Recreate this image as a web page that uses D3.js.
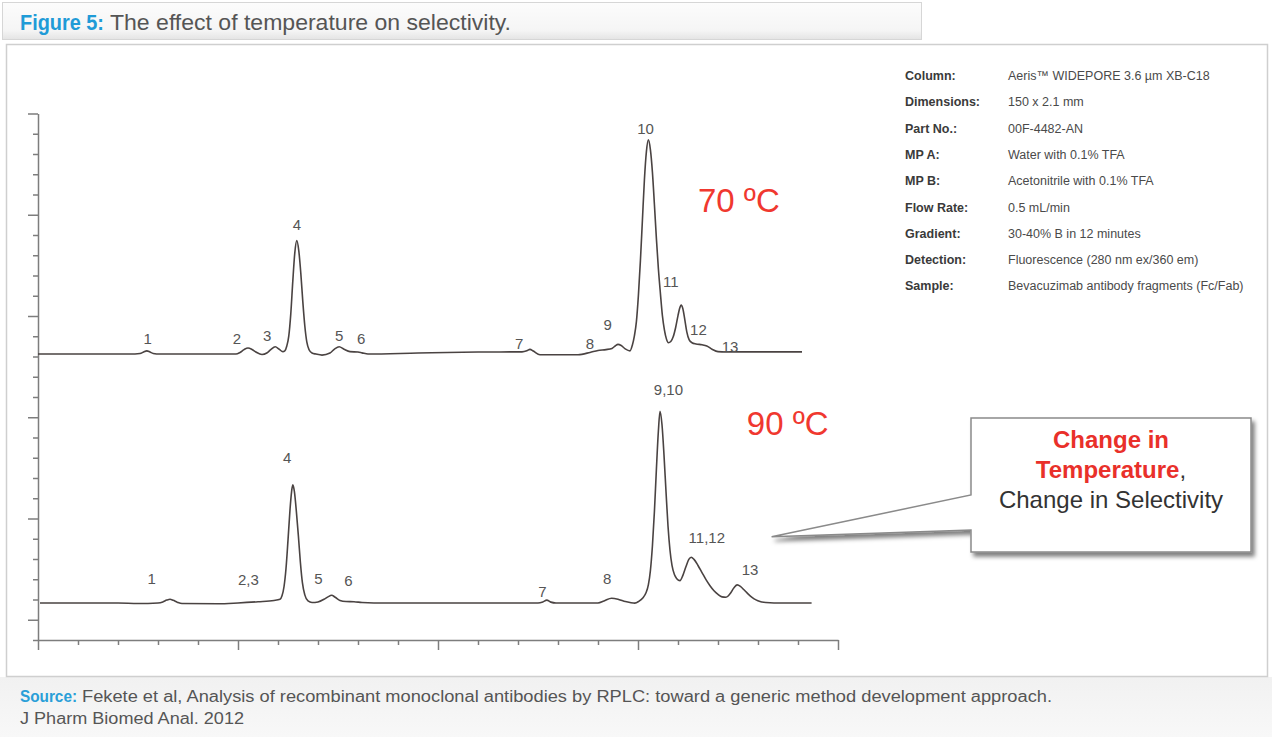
<!DOCTYPE html>
<html lang="en">
<head>
<meta charset="UTF-8">
<title>Figure 5: The effect of temperature on selectivity</title>
<script src="https://cdnjs.cloudflare.com/ajax/libs/d3/7.8.5/d3.min.js"></script>
<style>
  body { margin: 0; background: #fff; }
  svg { display: block; font-family: "Liberation Sans", Arial, sans-serif; }
  .axis path, .axis line { stroke: #7d7d7d; stroke-width: 1.5; }
  .trace { fill: none; stroke: #4a4342; stroke-width: 1.6; }
  .peak { fill: #555; font-size: 15px; text-anchor: middle; }
  .temp { fill: #f0382f; font-size: 33px; }
  .info-label { fill: #3a3a3a; font-size: 12.5px; font-weight: bold; }
  .info-value { fill: #4a4a4a; font-size: 12.5px; }
</style>
</head>
<body>
<script>
  var width = 1272, height = 737;

  // chromatograms: [time (min), signal] -- signal relative to each trace's baseline
  var trace70 = [
    [0,0],[2.3,0],[2.55,0.3],[2.64,1.0],[2.72,1.6],[2.8,1.0],[2.88,0.3],[3.05,0],
    [4.95,0],[5.05,0.8],[5.15,2.2],[5.25,3.0],[5.35,2.3],[5.45,1.0],[5.6,-0.2],[5.72,0.5],[5.82,2.2],[5.93,3.6],[6.03,2.4],[6.12,1.2],
    [6.17,1.6],[6.22,4],[6.27,9],[6.32,20],[6.37,36],[6.42,50],[6.47,56],[6.52,51],[6.57,40],[6.62,26],[6.67,14],[6.72,6],[6.78,2],[6.85,0.5],
    [6.95,0],[7.1,-0.5],[7.3,0.5],[7.42,2.6],[7.53,3.6],[7.65,2.4],[7.8,1.2],[8.0,1.0],[8.1,0.6],[8.25,0],
    [9.5,0.5],[11.0,1.0],[12.1,1.1],[12.22,1.6],[12.3,2.3],[12.38,1.5],[12.55,-0.3],[13.5,-0.3],[13.8,0.8],[14.0,1.8],[14.2,2.2],[14.35,2.8],[14.43,4.0],[14.5,4.8],[14.58,4.2],[14.68,2.6],[14.8,1.6],
    [14.86,4.5],[14.91,9],[14.96,16],[15.01,29],[15.06,46],[15.11,66],[15.16,86],[15.21,100],[15.26,105.8],
    [15.31,101],[15.36,90],[15.41,74],[15.46,57],[15.51,42],[15.56,30],[15.61,19],[15.66,12],[15.71,7.5],[15.76,5.6],
    [15.82,6.2],[15.88,8.5],[15.94,13],[16.0,19],[16.04,22.5],[16.08,24.2],[16.12,22.5],[16.17,17],[16.22,11],[16.28,7],[16.35,5.6],
    [16.45,5.0],[16.6,4.6],[16.72,4.0],[16.85,2.4],[17.0,1.2],[17.2,1.1],[19.1,1.1]
  ];
  var trace90 = [
    [0.05,0],[2.0,0],[2.5,-0.3],[3.0,0],[3.12,0.5],[3.22,1.4],[3.3,1.8],[3.38,1.3],[3.48,0.4],[3.6,-0.3],[4.5,-0.4],[5.0,0],[5.5,0.6],[5.9,1.2],[6.05,1.8],
    [6.1,3.5],[6.15,8],[6.2,17],[6.25,31],[6.3,46],[6.34,55],[6.37,58.3],[6.41,55],[6.46,45],[6.51,33],[6.56,20],[6.61,10],[6.67,4],[6.75,1],[6.85,0.2],
    [7.0,0.5],[7.15,1.8],[7.25,3.0],[7.34,3.8],[7.43,2.8],[7.55,1.2],[7.7,0.7],[7.9,0.6],[8.1,0.2],[8.4,0],
    [12.5,0],[12.62,0.5],[12.72,1.4],[12.82,0.4],[12.95,0],
    [14.0,0],[14.15,1.0],[14.34,2.3],[14.5,1.8],[14.65,0.8],[14.8,0.2],[14.92,-0.1],
    [15.02,0.8],[15.12,2.5],[15.2,5],[15.26,9],[15.31,16],[15.36,28],[15.41,45],[15.46,66],[15.51,85],[15.55,94.6],
    [15.6,88],[15.65,73],[15.7,55],[15.75,38],[15.8,26],[15.85,18.5],[15.91,14],[15.97,12],[16.05,11],
    [16.12,13.5],[16.2,18],[16.27,21.5],[16.33,22.6],[16.4,21.5],[16.5,18.5],[16.6,15],[16.7,11.5],[16.8,8.5],[16.9,6],[17.0,4.2],
    [17.1,3],[17.2,2.8],[17.3,4.5],[17.4,7.5],[17.48,8.9],[17.56,8.2],[17.65,6.5],[17.75,4.5],[17.85,2.8],[17.95,1.5],[18.05,0.7],[18.2,0.2],[18.4,0],[19.34,0]
  ];
  var baseline70 = 141.2,   // vertical offset of the 70 C trace
      baseline90 = 18.3;    // vertical offset of the 90 C trace

  // peak labels: [text, time, signal]
  var peaks70 = [["1",2.74,4.9],["2",4.97,4.9],["3",5.73,6.6],["4",6.47,61.3],["5",7.53,6.6],["6",8.08,4.9],
                 ["7",12.03,2.3],["8",13.8,2.3],["9",14.24,11.9],["10",15.19,108.7],["11",15.82,33.3],["12",16.51,9.4],["13",17.3,1.1]];
  var peaks90 = [["1",2.84,9.4],["2,3",5.26,8.9],["4",6.23,69],["5",7.01,9.4],["6",7.76,8.6],
                 ["7",12.61,3.1],["8",14.23,9.2],["9,10",15.76,102.8],["11,12",16.72,29.8],["13",17.8,13.8]];
  var tempLabels = [["70 ºC",16.5,70.2,baseline70],["90 ºC",17.72,83,baseline90]];

  var xTicks = d3.range(0, 21, 1);
  var yTicks = d3.range(0, 261, 10);

  var infoLabels = ["Column:","Dimensions:","Part No.:","MP A:","MP B:","Flow Rate:","Gradient:","Detection:","Sample:"];
  var infoValues = ["Aeris™ WIDEPORE 3.6 µm XB-C18","150 x 2.1 mm","00F-4482-AN","Water with 0.1% TFA",
                    "Acetonitrile with 0.1% TFA","0.5 mL/min","30-40% B in 12 minutes",
                    "Fluorescence (280 nm ex/360 em)","Bevacuzimab antibody fragments (Fc/Fab)"];

  var svg = d3.select("body").append("svg")
      .attr("width", width)
      .attr("height", height);

  var defs = svg.append("defs");
  var tg = defs.append("linearGradient").attr("id", "titleGrad").attr("x1", 0).attr("y1", 0).attr("x2", 0).attr("y2", 1);
  tg.append("stop").attr("offset", "0%").attr("stop-color", "#fcfcfc");
  tg.append("stop").attr("offset", "75%").attr("stop-color", "#f5f5f5");
  tg.append("stop").attr("offset", "100%").attr("stop-color", "#e4e4e4");
  var fg = defs.append("linearGradient").attr("id", "footGrad").attr("x1", 0).attr("y1", 0).attr("x2", 0).attr("y2", 1);
  fg.append("stop").attr("offset", "0%").attr("stop-color", "#f1f1f1");
  fg.append("stop").attr("offset", "100%").attr("stop-color", "#f8f8f8");
  defs.append("filter").attr("id", "shadow")
      .attr("x", "-10%").attr("y", "-10%").attr("width", "130%").attr("height", "140%")
    .append("feDropShadow")
      .attr("dx", 3).attr("dy", 4).attr("stdDeviation", 2)
      .attr("flood-color", "#000").attr("flood-opacity", 0.5);

  // frames
  svg.append("rect").attr("x", 0).attr("y", 677).attr("width", width).attr("height", 60).attr("fill", "url(#footGrad)");
  svg.append("rect").attr("x", 6.5).attr("y", 44.5).attr("width", 1261).attr("height", 632)
      .attr("fill", "#fff").attr("stroke", "#cfcfcf").attr("stroke-width", 1.5);
  svg.append("rect").attr("x", 2.5).attr("y", 2.5).attr("width", 919).attr("height", 37)
      .attr("fill", "url(#titleGrad)").attr("stroke", "#d6d6d6");

  // title
  svg.append("text").attr("x", 20).attr("y", 30)
      .attr("font-size", 22).attr("font-weight", "bold").attr("fill", "#1f9bd7")
      .attr("textLength", 84).attr("lengthAdjust", "spacingAndGlyphs")
      .text("Figure 5:");
  svg.append("text").attr("x", 110).attr("y", 30)
      .attr("font-size", 22).attr("fill", "#555")
      .attr("textLength", 401).attr("lengthAdjust", "spacingAndGlyphs")
      .text("The effect of temperature on selectivity.");

  // scales and axes
  var x = d3.scaleLinear().domain([0, 20]).range([38, 838]);
  var y = d3.scaleLinear().domain([0, 260]).range([640, 113.5]);

  var yAxis = svg.append("g").attr("class", "axis").attr("transform", "translate(38,0)")
      .call(d3.axisLeft(y).tickValues(yTicks).tickSize(5).tickSizeOuter(0).tickFormat(""));
  yAxis.selectAll(".tick line").filter(function(d) { return (d - 10) % 50 === 0; }).attr("x2", -10);

  var xAxis = svg.append("g").attr("class", "axis").attr("transform", "translate(0,640)")
      .call(d3.axisBottom(x).tickValues(xTicks).tickSize(5).tickSizeOuter(0).tickFormat(""));
  xAxis.selectAll(".tick line").filter(function(d) { return d % 5 === 0; }).attr("y2", 10);

  // traces
  function traceLine(base) {
    return d3.line()
        .x(function(d) { return x(d[0]); })
        .y(function(d) { return y(d[1] + base); })
        .curve(d3.curveMonotoneX);
  }
  svg.append("path").attr("class", "trace").attr("d", traceLine(baseline70)(trace70));
  svg.append("path").attr("class", "trace").attr("d", traceLine(baseline90)(trace90));

  // peak labels
  function addPeaks(data, base) {
    svg.append("g").selectAll("text")
      .data(data)
      .join("text")
        .attr("class", "peak")
        .attr("x", function(d) { return x(d[1]); })
        .attr("y", function(d) { return y(d[2] + base); })
        .text(function(d) { return d[0]; });
  }
  addPeaks(peaks70, baseline70);
  addPeaks(peaks90, baseline90);

  svg.append("g").selectAll("text")
    .data(tempLabels)
    .join("text")
      .attr("class", "temp")
      .attr("x", function(d) { return x(d[1]); })
      .attr("y", function(d) { return y(d[2] + d[3]); })
      .text(function(d) { return d[0]; });

  // method table
  var info = svg.append("g");
  info.selectAll(".info-label")
    .data(infoLabels)
    .join("text")
      .attr("class", "info-label")
      .attr("x", 905)
      .attr("y", function(d, i) { return 80 + i * 26.3; })
      .text(function(d) { return d; });
  info.selectAll(".info-value")
    .data(infoValues)
    .join("text")
      .attr("class", "info-value")
      .attr("x", 1008)
      .attr("y", function(d, i) { return 80 + i * 26.3; })
      .text(function(d) { return d; });

  // callout
  var tipX = x(18.34), tipY = y(32.7 + baseline90);
  svg.append("path")
      .attr("d", "M971,418H1251V552H971V530L" + tipX + "," + tipY + "L971,495Z")
      .attr("fill", "#fff").attr("stroke", "#8a8a8a").attr("stroke-width", 1.5)
      .attr("filter", "url(#shadow)");
  var call = svg.append("text").attr("text-anchor", "middle").attr("font-size", 24);
  call.append("tspan").attr("x", 1111).attr("y", 448)
      .attr("font-weight", "bold").attr("fill", "#e9302a").text("Change in");
  var l2 = call.append("tspan").attr("x", 1111).attr("y", 478);
  l2.append("tspan").attr("font-weight", "bold").attr("fill", "#e9302a").text("Temperature");
  l2.append("tspan").attr("fill", "#333").text(",");
  call.append("tspan").attr("x", 1111).attr("y", 508).attr("fill", "#333").text("Change in Selectivity");

  // source
  svg.append("text").attr("x", 20).attr("y", 702)
      .attr("font-size", 16).attr("font-weight", "bold").attr("fill", "#2a9fd8")
      .attr("textLength", 57).attr("lengthAdjust", "spacingAndGlyphs")
      .text("Source:");
  svg.append("text").attr("x", 82).attr("y", 702)
      .attr("font-size", 16).attr("fill", "#555")
      .attr("textLength", 970).attr("lengthAdjust", "spacingAndGlyphs")
      .text("Fekete et al, Analysis of recombinant monoclonal antibodies by RPLC: toward a generic method development approach.");
  svg.append("text").attr("x", 20).attr("y", 724)
      .attr("font-size", 16).attr("fill", "#555")
      .attr("textLength", 224).attr("lengthAdjust", "spacingAndGlyphs")
      .text("J Pharm Biomed Anal. 2012");
</script>
</body>
</html>
